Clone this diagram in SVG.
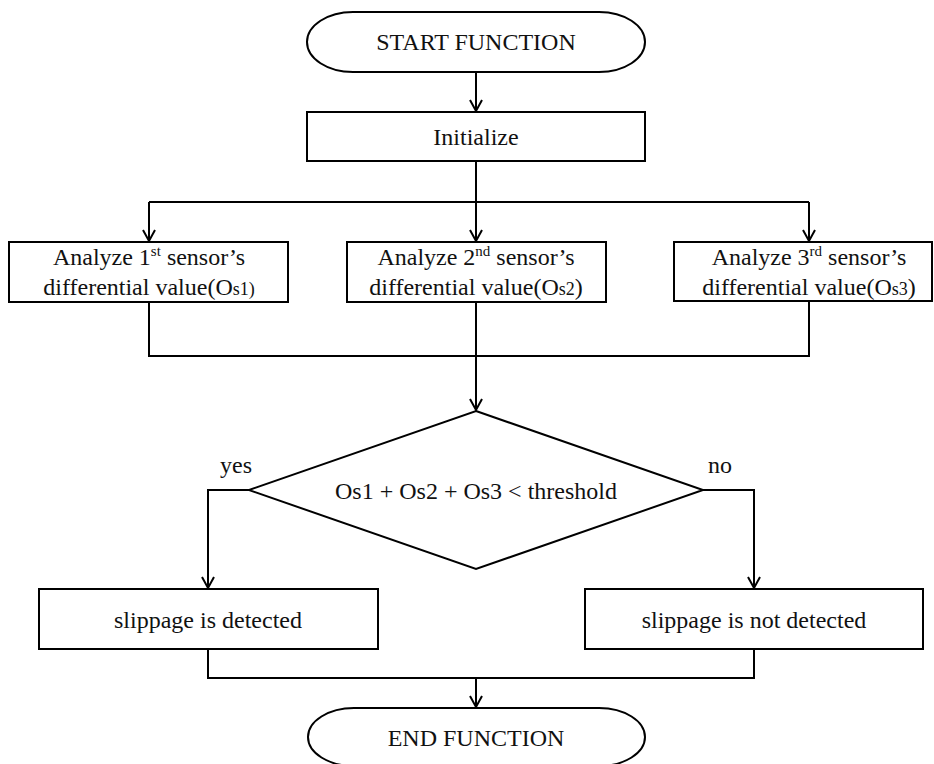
<svg xmlns="http://www.w3.org/2000/svg" width="934" height="764" viewBox="0 0 934 764">
<style>
.shape{fill:#fff;stroke:#000;stroke-width:2}
.conn{fill:none;stroke:#000;stroke-width:2}
text{font-family:"Liberation Serif","Times New Roman",serif;font-size:24px;fill:#111}
.c{text-anchor:middle}
</style>
<defs>
<marker id="arr" markerUnits="userSpaceOnUse" markerWidth="16" markerHeight="16" refX="12" refY="7" orient="auto" overflow="visible">
<path d="M1,1 L12,7 L1,13" fill="none" stroke="#000" stroke-width="2"/>
</marker>
</defs>
<rect width="934" height="764" fill="#fff"/>
<g id="connectors">
<path class="conn" d="M476,72 V111" marker-end="url(#arr)"/>
<path class="conn" d="M476,161 V202 M149,202 H809"/>
<path class="conn" d="M149,202 V241" marker-end="url(#arr)"/>
<path class="conn" d="M476,202 V241" marker-end="url(#arr)"/>
<path class="conn" d="M809,202 V241" marker-end="url(#arr)"/>
<path class="conn" d="M149,302 V356 H809 V301 M476,302 V356"/>
<path class="conn" d="M476,356 V410" marker-end="url(#arr)"/>
<path class="conn" d="M249,490 H208 V588" marker-end="url(#arr)"/>
<path class="conn" d="M703,490 H754 V588" marker-end="url(#arr)"/>
<path class="conn" d="M208,649 V678 H754 V649"/>
<path class="conn" d="M476,678 V707" marker-end="url(#arr)"/>
</g>
<g id="start">
<rect class="shape" x="307" y="12" width="338" height="60" rx="46" ry="30"/>
<text class="c" x="476" y="50">START FUNCTION</text>
</g>
<g id="init">
<rect class="shape" x="307" y="112" width="338" height="49"/>
<text class="c" x="476" y="145">Initialize</text>
</g>
<g id="sensor1">
<rect class="shape" x="9" y="242" width="279" height="60"/>
<text class="c" x="149" y="265">Analyze 1<tspan font-size="15" dy="-9">st</tspan><tspan dy="9"> sensor’s</tspan></text>
<text class="c" x="149" y="295">differential value(O<tspan font-size="18">s1)</tspan></text>
</g>
<g id="sensor2">
<rect class="shape" x="347" y="242" width="259" height="60"/>
<text class="c" x="476" y="265">Analyze 2<tspan font-size="15" dy="-9">nd</tspan><tspan dy="9"> sensor’s</tspan></text>
<text class="c" x="476" y="295">differential value(O<tspan font-size="18">s2</tspan>)</text>
</g>
<g id="sensor3">
<rect class="shape" x="674" y="242" width="258" height="59"/>
<text class="c" x="809" y="265">Analyze 3<tspan font-size="15" dy="-9">rd</tspan><tspan dy="9"> sensor’s</tspan></text>
<text class="c" x="809" y="295">differential value(O<tspan font-size="18">s3</tspan>)</text>
</g>
<g id="decision">
<polygon class="shape" points="476,411 703,490 476,569 249,490"/>
<text class="c" x="476" y="499">Os1 + Os2 + Os3 &lt; threshold</text>
<text x="220" y="473">yes</text>
<text x="708" y="473">no</text>
</g>
<g id="detected">
<rect class="shape" x="39" y="589" width="339" height="60"/>
<text class="c" x="208" y="628">slippage is detected</text>
</g>
<g id="notdetected">
<rect class="shape" x="585" y="589" width="338" height="60"/>
<text class="c" x="754" y="628">slippage is not detected</text>
</g>
<g id="end">
<rect class="shape" x="308" y="708" width="337" height="58" rx="46" ry="29"/>
<text class="c" x="476" y="746">END FUNCTION</text>
</g>
</svg>
